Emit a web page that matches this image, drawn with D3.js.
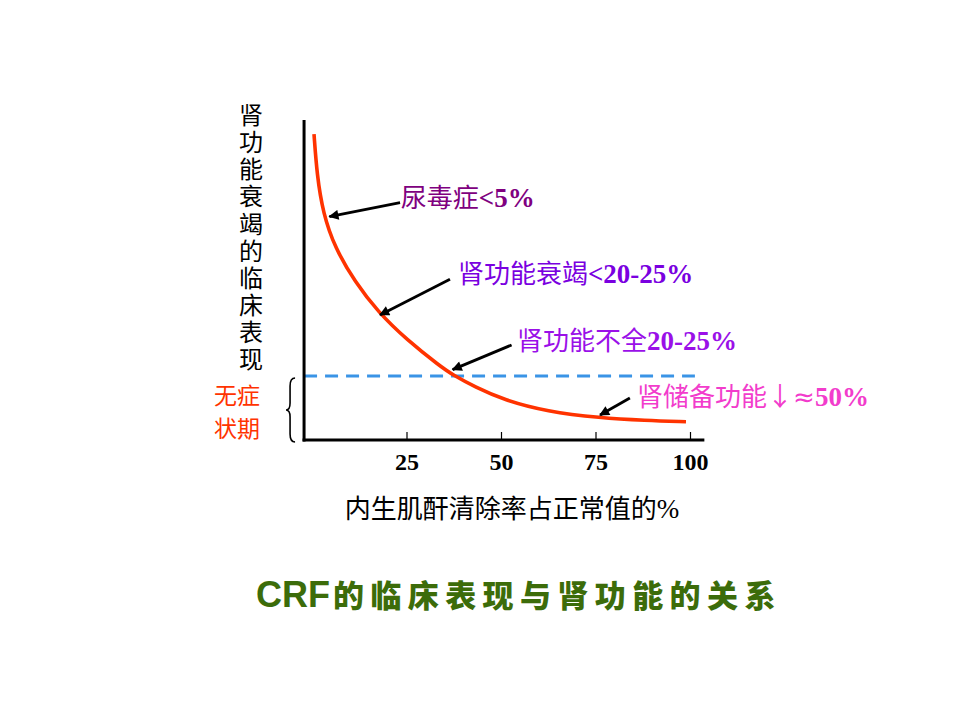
<!DOCTYPE html>
<html>
<head>
<meta charset="utf-8">
<script src="https://cdn.jsdelivr.net/npm/d3@7"></script>
<style>
  html, body { margin: 0; padding: 0; background: #ffffff; }
  svg { display: block; }
</style>
</head>
<body>
<svg id="chart" width="960" height="720"></svg>
<script>
// ---------------- data ----------------
const xTicks = [25, 50, 75, 100];
const xTickLabels = ["25", "50", "75", "100"];
// creatinine clearance (% of normal) along the curve
const clearancePct = [0.53, 1.32, 2.91, 6.08, 11.38, 17.46, 25.13, 33.86, 37.30, 43.12, 50.79, 62.17, 76.19, 88.10, 98.94];
// relative severity of clinical manifestation (arbitrary 0-100 scale)
const severity = [95.6, 82.8, 70.9, 60.0, 49.4, 40.0, 31.25, 23.1, 20.3, 16.6, 12.5, 8.9, 6.9, 6.1, 5.7];
const thresholdLevel = 20;   // dashed line: start of symptoms
const yAxisLabel = "肾功能衰竭的临床表现";
const xAxisLabel = "内生肌酐清除率占正常值的%";
const stageLabel = ["无症", "状期"];
const titleLatin = "CRF";
const titleCJK = "的临床表现与肾功能的关系";
// annotations: cjk text, symbol, latin text, colour, text anchor (data units), arrow tail, arrow tip (data units)
const annoCJK   = ["尿毒症", "肾功能衰竭", "肾功能不全", "肾储备功能↓"];
const annoSym   = ["", "", "", "≈"];
const annoLatin = ["<5%", "<20-25%", "20-25%", "50%"];
const annoColor = ["#800080", "#7a00e0", "#9a10e8", "#f23ccc"];
const annoTextX = [23.5, 38.6, 54.2, 86.0];
const annoTextY = [72.8, 49.1, 28.1, 10.6];
const annoTailX = [23.3, 36.5, 52.8, 84.1];
const annoTailY = [74.2, 50.2, 29.7, 13.1];
const annoTipX  = [4.6, 18.0, 37.2, 76.2];
const annoTipY  = [69.8, 39.1, 22.0, 7.8];

// ---------------- layout ----------------
const svg = d3.select("#chart");
const x = d3.scaleLinear().domain([0, 100]).range([312, 690]);
const y = d3.scaleLinear().domain([0, 100]).range([440, 120]);
const axisX0 = x(-2.1), axisX1 = x(103.8);

const CJK = "'Noto Sans CJK SC', 'Noto Sans CJK JP', sans-serif";
const SERIF = "'Liberation Serif', 'Times New Roman', serif";
const SANS = "'Liberation Sans', Arial, sans-serif";

// arrow marker
svg.append("defs").append("marker")
  .attr("id", "arrow")
  .attr("viewBox", "0 0 10 10")
  .attr("refX", 9).attr("refY", 5)
  .attr("markerWidth", 4.6).attr("markerHeight", 3.6)
  .attr("markerUnits", "strokeWidth")
  .attr("orient", "auto")
  .append("path").attr("d", "M0,0 L10,5 L0,10 Z").attr("fill", "#000");

// dashed threshold line
svg.append("line")
  .attr("x1", axisX0).attr("x2", x(101.3))
  .attr("y1", y(thresholdLevel)).attr("y2", y(thresholdLevel))
  .attr("stroke", "#3a94e6").attr("stroke-width", 3)
  .attr("stroke-dasharray", "13,8");

// curve
const pts = clearancePct.map((c, i) => [c, severity[i]]);
svg.append("path")
  .datum(pts)
  .attr("d", d3.line().x(d => x(d[0])).y(d => y(d[1])).curve(d3.curveBasis))
  .attr("fill", "none").attr("stroke", "#ff3300").attr("stroke-width", 3.6)
  .attr("stroke-linecap", "butt");

// axes
svg.append("line").attr("x1", axisX0).attr("x2", axisX0)
  .attr("y1", y(100)).attr("y2", y(0) + 1.5)
  .attr("stroke", "#000").attr("stroke-width", 3);
svg.append("line").attr("x1", axisX0 - 1.5).attr("x2", axisX1)
  .attr("y1", y(0)).attr("y2", y(0))
  .attr("stroke", "#000").attr("stroke-width", 3);

const xAxis = d3.axisBottom(x)
  .tickValues(xTicks)
  .tickFormat((d, i) => xTickLabels[i])
  .tickSizeInner(-8).tickSizeOuter(0).tickPadding(13);
const gx = svg.append("g").attr("transform", `translate(0,${y(0)})`).call(xAxis);
gx.select(".domain").remove();
gx.selectAll(".tick line").attr("stroke", "#000").attr("stroke-width", 1.2);
gx.selectAll(".tick text")
  .attr("font-family", SERIF).attr("font-weight", "bold")
  .attr("font-size", 24).attr("fill", "#000");

// y axis label (vertical writing, one text element)
svg.append("text")
  .attr("x", 251).attr("y", 103)
  .attr("font-family", CJK).attr("font-size", 24).attr("fill", "#000")
  .style("writing-mode", "vertical-rl")
  .style("text-orientation", "upright")
  .style("letter-spacing", "3.1px")
  .text(yAxisLabel);

// stage label + brace
svg.append("g").selectAll("text")
  .data(stageLabel)
  .join("text")
  .attr("text-anchor", "middle")
  .attr("font-family", CJK).attr("font-size", 23).attr("fill", "#ff3300")
  .attr("x", 237)
  .attr("y", (d, i) => 396 + i * 33 + 8.2)
  .text(d => d);

const bTop = y(thresholdLevel) + 2, bBot = y(0) + 2, bMid = (bTop + bBot) / 2;
const bx = axisX0 - 14;
svg.append("path")
  .attr("d", `M${bx + 5},${bTop} Q${bx},${bTop} ${bx},${bTop + 8} L${bx},${bMid - 7} Q${bx},${bMid} ${bx - 4},${bMid}` +
             ` Q${bx},${bMid} ${bx},${bMid + 7} L${bx},${bBot - 8} Q${bx},${bBot} ${bx + 5},${bBot}`)
  .attr("fill", "none").attr("stroke", "#000").attr("stroke-width", 1.6);

// x axis title
const xt = svg.append("text")
  .attr("x", 512).attr("y", 518)
  .attr("text-anchor", "middle").attr("fill", "#000");
xt.append("tspan").attr("font-family", CJK).attr("font-size", 26).text(xAxisLabel.slice(0, -1));
xt.append("tspan").attr("font-family", SERIF).attr("font-size", 27).text(xAxisLabel.slice(-1));

// annotations
annoCJK.forEach((t, i) => {
  svg.append("line")
    .attr("x1", x(annoTailX[i])).attr("y1", y(annoTailY[i]))
    .attr("x2", x(annoTipX[i])).attr("y2", y(annoTipY[i]))
    .attr("stroke", "#000").attr("stroke-width", 2.8)
    .attr("marker-end", "url(#arrow)");
  const tx = svg.append("text")
    .attr("x", x(annoTextX[i])).attr("y", y(annoTextY[i]))
    .attr("fill", annoColor[i]);
  tx.append("tspan").attr("font-family", CJK).attr("font-size", 26).text(t);
  if (annoSym[i]) {
    tx.append("tspan").attr("font-family", "'DejaVu Sans', sans-serif").attr("font-size", 26).text(annoSym[i]);
  }
  tx.append("tspan").attr("font-family", SERIF).attr("font-weight", "bold").attr("font-size", 27).text(annoLatin[i]);
});

// title
const title = svg.append("text")
  .attr("x", 256).attr("y", 607)
  .attr("fill", "#3c6c0a");
title.append("tspan").attr("font-family", SANS).attr("font-weight", "bold").attr("font-size", 36).text(titleLatin);
title.append("tspan").attr("font-family", CJK).attr("font-weight", 900).attr("font-size", 31)
  .attr("letter-spacing", 6.4).attr("dx", 3).text(titleCJK);
</script>
</body>
</html>
